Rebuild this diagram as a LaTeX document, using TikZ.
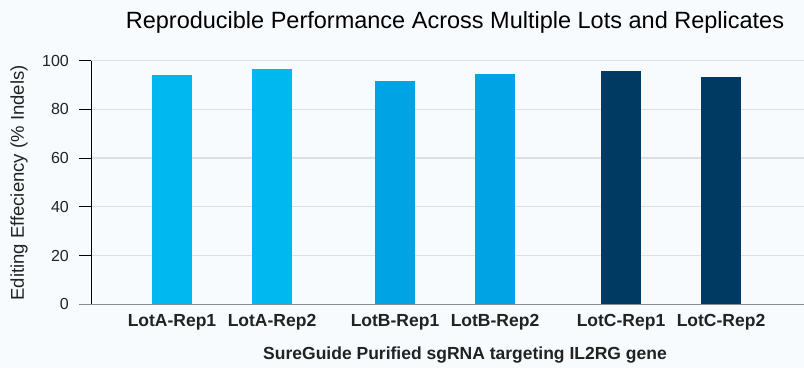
\documentclass[tikz,border=0pt]{standalone}
\usepackage{fontspec}
\setmainfont{Liberation Sans}
\definecolor{bgc}{HTML}{F7FBFE}
\definecolor{lotA}{HTML}{00B8F0}
\definecolor{lotB}{HTML}{00A3E4}
\definecolor{lotC}{HTML}{003A62}
\definecolor{gridc}{HTML}{DCDFE3}
\definecolor{axisc}{HTML}{8A8A8A}
\definecolor{txt}{HTML}{222222}
\tikzset{
  ticklab/.style={anchor=east, font=\fontsize{16}{16}\selectfont, text=txt, inner sep=0pt},
  barlab/.style={anchor=center, font=\fontsize{17.5}{17.5}\selectfont\bfseries, text=txt, inner sep=0pt},
  gridline/.style={draw=gridc, line width=1.4pt},
}
\begin{document}
\begin{tikzpicture}[x=1pt,y=-1pt]
  \fill[bgc] (0,0) rectangle (804,368);
  \useasboundingbox (0,0) rectangle (804,368);
  % value -> y position: 0 at 304.3, 100 at 60.5
  \def\yv#1{304.3-2.438*#1}
  % grid lines and ticks
  \foreach \v in {20,40,60,80,100}{
    \draw[gridline] (91,{\yv{\v}}) -- (804,{\yv{\v}});
  }
  \foreach \v in {0,20,40,60,80,100}{
    \draw[black, line width=0.9pt] (79,{\yv{\v}}) -- (91,{\yv{\v}});
    \node[ticklab] (t\v) at (69,{\yv{\v}}) {\v};
  }
  % bars
  \foreach \x/\v/\c in {152/94.0/lotA, 252/96.5/lotA, 375/91.6/lotB, 475/94.4/lotB, 601/95.6/lotC, 701/93.2/lotC}{
    \fill[\c] (\x,{\yv{\v}}) rectangle (\x+40,{\yv{0}});
  }
  % axes
  \draw[black, line width=0.9pt] (91,{\yv{100}}) -- (91,{\yv{0}});
  \draw[axisc, line width=1.2pt] (79,{\yv{0}}) -- (804,{\yv{0}});
  % category labels
  \node[barlab] (la1) at (172,322) {LotA-Rep1};
  \node[barlab] (la2) at (272,322) {LotA-Rep2};
  \node[barlab] (lb1) at (395,322) {LotB-Rep1};
  \node[barlab] (lb2) at (495,322) {LotB-Rep2};
  \node[barlab] (lc1) at (621,322) {LotC-Rep1};
  \node[barlab] (lc2) at (721,322) {LotC-Rep2};
  % axis titles
  \node[barlab] (xtitle) at (465,355) {SureGuide Purified sgRNA targeting IL2RG gene};
  \node[anchor=center, rotate=90, font=\fontsize{18.5}{18.5}\selectfont, text=txt, inner sep=0pt] (ytitle) at (19,183) {Editing Effeciency (\% Indels)};
  \node[anchor=center, font=\fontsize{23.5}{23.5}\selectfont, text=black, inner sep=0pt] (title) at (455,22) {Reproducible Performance Across Multiple Lots and Replicates};
\end{tikzpicture}
\end{document}
